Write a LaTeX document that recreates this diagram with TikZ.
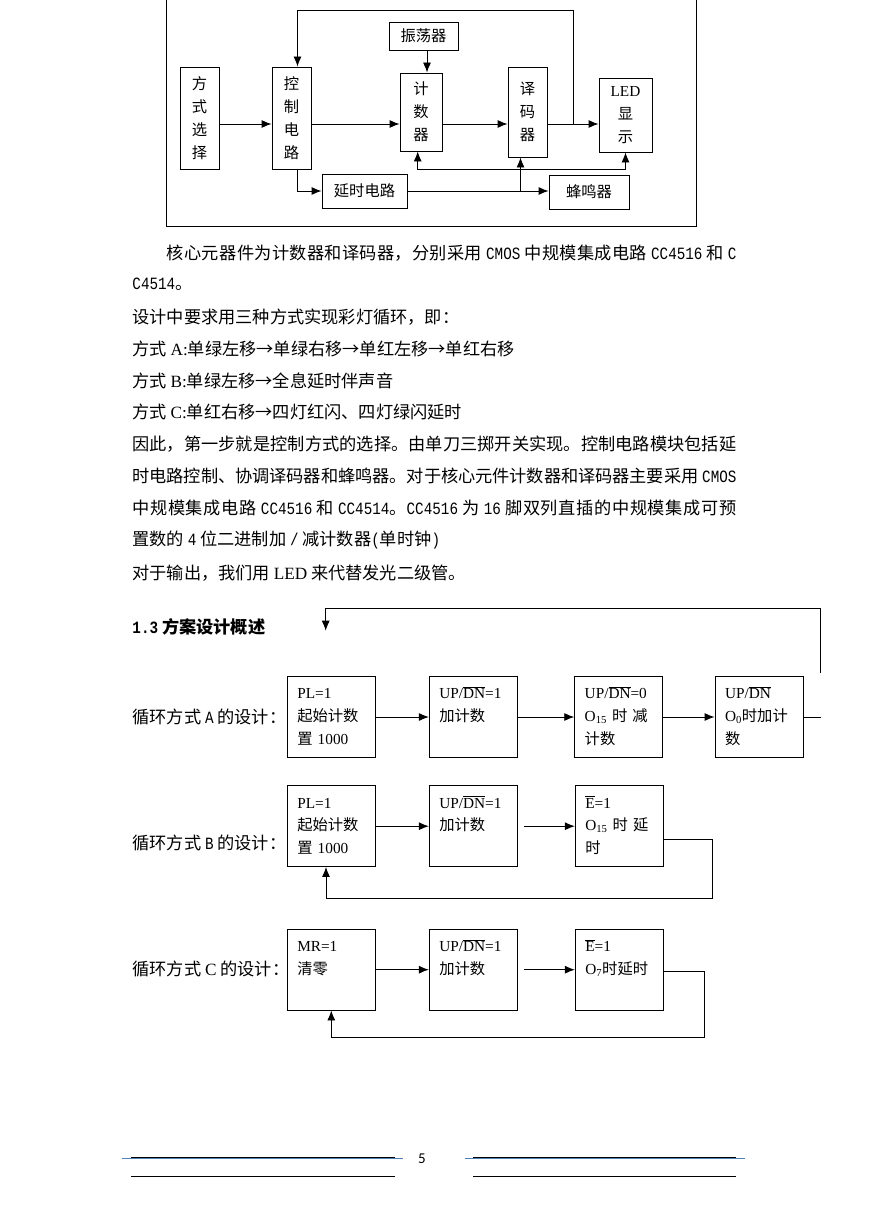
\documentclass[tikz,border=0pt]{standalone}
\usepackage{fontspec}
\setmainfont{Liberation Serif}
\newfontfamily\cjk{Noto Sans CJK SC}
\newfontfamily\hw{Liberation Mono}[FakeStretch=0.83]
\newfontfamily\pagefont{Carlito}
\usepackage{xcolor}
\usetikzlibrary{arrows.meta, positioning}
\definecolor{rulebl}{RGB}{79,129,189}
\newcommand\lat[1]{{\rmfamily #1}}
\newcommand\ovl[1]{$\overline{\mbox{\rmfamily #1}}$}
\newcommand\zhjust{\XeTeXlinebreaklocale "zh"\XeTeXlinebreakskip=0pt plus 3pt minus 0.5pt\parfillskip=0pt\relax\noindent}

\begin{document}
\begin{tikzpicture}[
        x=1pt, y=-1pt,
        line width=0.9pt,
        every node/.style={inner sep=0pt},
        blk/.style={draw, align=center, font=\cjk\fontsize{15.3}{23}\selectfont},
        stage/.style={draw, text width=68pt, inner xsep=10pt, minimum height=80.6pt, align=left, font=\cjk\fontsize{15.3}{22.7}\selectfont},
        body/.style={anchor=west, font=\cjk\fontsize{17.2}{20}\selectfont},
        fullline/.style={body, text width=604pt, align=justify, execute at begin node=\zhjust},
        arrow/.style={-{Latex[length=10pt, width=8pt]}}
    ]
    \fill[white] (0,0) rectangle (869,1228);
    \useasboundingbox (0,0) rectangle (869,1228);

    % Block diagram
    \draw (166.5,-3) rectangle (696.5,226.5);
    \node[blk, minimum width=39pt, minimum height=102pt] (mode) at (199.5,118) {方\\式\\选\\择};
    \node[blk, minimum width=39pt, minimum height=102pt] (ctrl) at (291.5,118) {控\\制\\电\\路};
    \node[blk, minimum width=69pt, minimum height=28pt] (osc) at (423.5,36) {振荡器};
    \node[blk, minimum width=42pt, minimum height=78pt] (cnt) at (421,112) {计\\数\\器};
    \node[blk, minimum width=39pt, minimum height=90pt] (dec) at (527.5,112) {译\\码\\器};
    \node[blk, minimum width=53pt, minimum height=74pt] (led) at (625.5,115) {\lat{LED}\\显\\示};
    \node[blk, minimum width=85pt, minimum height=34pt] (delay) at (364.5,191) {延时电路};
    \node[blk, minimum width=80pt, minimum height=34pt] (buzz) at (589,192) {蜂鸣器};

    \draw[arrow] ([yshift=-6pt]mode.east) -- ([yshift=-6pt]ctrl.west);
    \draw[arrow] ([yshift=-6pt]ctrl.east) -- ([yshift=-6pt]ctrl.east -| cnt.west);
    \draw[arrow] ([yshift=-12pt]cnt.east) -- ([yshift=-12pt]cnt.east -| dec.west);
    \draw[arrow] ([yshift=-12pt]dec.east) -- ([yshift=-12pt]dec.east -| led.west);
    \coordinate (tap) at (573.3,124);
    \draw[arrow] (tap) -- ++(0,-114) -| ([xshift=6pt]ctrl.north);
    \draw[arrow] ([xshift=3.5pt]osc.south) -- ([xshift=3.5pt]osc.south |- cnt.north);
    \draw[arrow] ([xshift=6pt]ctrl.south) |- (delay.west);
    \draw[arrow] (delay.east) -- (delay.east -| buzz.west);
    \draw[arrow] ([xshift=-7pt]dec.south |- delay.east) -- ([xshift=-7pt]dec.south);
    \coordinate (bus) at (520.7,169);
    \draw[arrow] (bus) -| ([xshift=-3.3pt]cnt.south);
    \draw[arrow] (bus) -| (led.south);

    % Text
    \node[fullline] (p1) at (132,253) {\hspace*{2em}核心元器件为计数器和译码器，分别采用 {\hw CMOS} 中规模集成电路 {\hw CC4516} 和 {\hw C}};
    \node[body] (p2) at (132,284) {{\hw C4514}。};
    \node[body] (p3) at (132,317) {设计中要求用三种方式实现彩灯循环，即：};
    \node[body] (p4) at (132,349) {方式 \lat{A:}单绿左移→单绿右移→单红左移→单红右移};
    \node[body] (p5) at (132,381) {方式 \lat{B:}单绿左移→全息延时伴声音};
    \node[body] (p6) at (132,412) {方式 \lat{C:}单红右移→四灯红闪、四灯绿闪延时};
    \node[fullline] (p7) at (132,444) {因此，第一步就是控制方式的选择。由单刀三掷开关实现。控制电路模块包括延};
    \node[fullline] (p8) at (132,476) {时电路控制、协调译码器和蜂鸣器。对于核心元件计数器和译码器主要采用 {\hw CMOS}};
    \node[fullline] (p9) at (132,508) {中规模集成电路 {\hw CC4516} 和 {\hw CC4514}。{\hw CC4516} 为 {\hw 16} 脚双列直插的中规模集成可预};
    \node[body] (p10) at (132,540) {置数的 {\hw 4} 位二进制加 {\hw /} 减计数器{\hw (}单时钟{\hw )}};
    \node[body] (p11) at (132,573) {对于输出，我们用 \lat{LED} 来代替发光二级管。};

    \node[body, font=\cjk\bfseries\fontsize{17.2}{20}\selectfont] (sec) at (132,627) {{\hw 1.3} 方案设计概述};

    % Mode A
    \node[body] (labA) at (132,717) {循环方式 {\hw A} 的设计：};
    \node[stage] (a1) at (331.3,717) {\strut\lat{PL=1}\\起始计数\\置 \lat{1000}\strut};
    \node[stage] (a2) at (473.3,717) {\strut\lat{UP/}\ovl{DN}\lat{=1}\\加计数\\\strut};
    \node[stage] (a3) at (618.7,717) {\strut\lat{UP/}\ovl{DN}\lat{=0}\\\lat{O\textsubscript{15}} 时 减\\计数\strut};
    \node[stage] (a4) at (759,717) {\strut\lat{UP/}\ovl{DN}\\\lat{O\textsubscript{0}}时加计\\数\strut};
    \draw[arrow] (a1) -- (a2);
    \draw[arrow] (a2) -- (a3);
    \draw[arrow] (a3) -- (a4);
    \coordinate (outA) at (821,717);
    \draw (a4) -- (outA);
    \coordinate (upA) at (820,672.7);
    \coordinate (topA) at (325.7,630.7);
    \draw[arrow] (upA) -- ++(0,-64.4) -| (topA);

    % Mode B
    \node[body] (labB) at (132,843) {循环方式 {\hw B} 的设计：};
    \node[stage] (b1) at (331.3,826.2) {\strut\lat{PL=1}\\起始计数\\置 \lat{1000}\strut};
    \node[stage] (b2) at (473.3,826.2) {\strut\lat{UP/}\ovl{DN}\lat{=1}\\加计数\\\strut};
    \node[stage] (b3) at (619.3,826.2) {\strut\ovl{E}\lat{=1}\\\lat{O\textsubscript{15}} 时 延\\时\strut};
    \draw[arrow] (b1) -- (b2);
    \draw[arrow] ([xshift=6pt]b2.east) -- (b3.west);
    \draw[arrow] ([yshift=-13pt]b3.east) -- ++(48.4,0) -- ++(0,59) -| ([xshift=-5.3pt]b1.south);

    % Mode C
    \node[body] (labC) at (132,969) {循环方式 \lat{C} 的设计：};
    \node[stage] (c1) at (331.3,969.7) {\strut\lat{MR=1}\\清零\\\strut};
    \node[stage] (c2) at (473.3,969.7) {\strut\lat{UP/}\ovl{DN}\lat{=1}\\加计数\\\strut};
    \node[stage] (c3) at (619.3,969.7) {\strut\ovl{E}\lat{=1}\\\lat{O\textsubscript{7}}时延时\\\strut};
    \draw[arrow] (c1) -- (c2);
    \draw[arrow] ([xshift=6pt]c2.east) -- (c3.west);
    \draw[arrow] ([yshift=-2pt]c3.east) -- ++(40.7,0) -- ++(0,65.6) -| (c1.south);

    % Footer
    \node[font=\pagefont\fontsize{15}{15}\selectfont] (pg) at (422,1159) {5};
    \draw[line width=0.8pt] (131,1157) -- (395,1157);
    \draw[line width=0.8pt] (131,1176) -- (395,1176);
    \draw[line width=0.8pt] (473,1157) -- (736,1157);
    \draw[line width=0.8pt] (473,1176) -- (736,1176);
    \draw[rulebl, line width=0.8pt] (122,1158.5) -- (403,1158.5);
    \draw[rulebl, line width=0.8pt] (465,1158.5) -- (745,1158.5);
\end{tikzpicture}
\end{document}
